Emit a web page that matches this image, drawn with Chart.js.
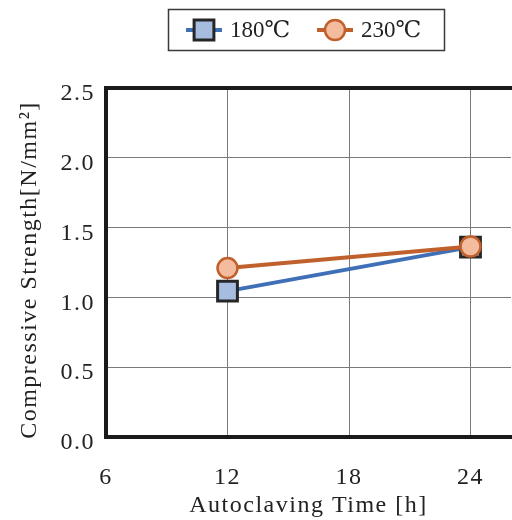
<!DOCTYPE html>
<html><head><meta charset="utf-8">
<script src="https://cdn.jsdelivr.net/npm/chart.js@4.4.1/dist/chart.umd.min.js"></script>
<style>html,body{margin:0;padding:0;background:#fff;overflow:hidden}#wrap{width:512px;height:520px;position:relative;overflow:hidden}</style>
</head><body><div id="wrap"><canvas id="c" width="528" height="520"></canvas></div>
<script>
const hours = [12, 24];
const strength180 = [1.045, 1.36];
const strength230 = [1.21, 1.365];
const seriesNames = ['180℃', '230℃'];
const xTicks = [6, 12, 18, 24];
const yTicks = [0, 0.5, 1.0, 1.5, 2.0, 2.5];
const xTitle = 'Autoclaving Time [h]';
const yTitle = 'Compressive Strength[N/mm²]';

const FONT = '"Liberation Serif", "Times New Roman", "DejaVu Serif", serif';
const TXT = '#222';
const SPACING = '1.5px';

const spacing = {
  id: 'spacing',
  beforeUpdate(chart) { chart.ctx.letterSpacing = SPACING; },
  beforeDraw(chart) { chart.ctx.letterSpacing = SPACING; }
};

const topBorder = {
  id: 'topBorder',
  beforeDatasetsDraw(chart) {
    const {ctx, chartArea: a} = chart;
    ctx.save();
    ctx.strokeStyle = '#1a1a1a';
    ctx.lineWidth = 4;
    ctx.beginPath();
    ctx.moveTo(a.left - 2, a.top);
    ctx.lineTo(a.right + 2, a.top);
    ctx.stroke();
    ctx.restore();
  }
};

const legendBox = {
  id: 'legendBox',
  afterDraw(chart) {
    const ctx = chart.ctx;
    ctx.save();
    ctx.letterSpacing = '0px';
    ctx.strokeStyle = '#3a3a3a';
    ctx.lineWidth = 1.5;
    ctx.strokeRect(168.5, 9.5, 276, 41);
    const starts = [186, 317];
    const cy = 30;
    chart.data.datasets.forEach((ds, i) => {
      const x0 = starts[i];
      ctx.strokeStyle = ds.borderColor;
      ctx.lineWidth = ds.borderWidth;
      ctx.beginPath();
      ctx.moveTo(x0, cy); ctx.lineTo(x0 + 36, cy); ctx.stroke();
      ctx.fillStyle = ds.pointBackgroundColor;
      ctx.strokeStyle = ds.pointBorderColor;
      ctx.lineWidth = ds.pointBorderWidth;
      Chart.helpers.drawPoint(ctx, {pointStyle: ds.pointStyle, radius: ds.pointRadius, rotation: 0, borderWidth: ds.pointBorderWidth}, x0 + 18, cy);
      ctx.fillStyle = TXT;
      ctx.font = '23px ' + FONT;
      ctx.textBaseline = 'middle';
      ctx.textAlign = 'left';
      ctx.fillText(ds.label, x0 + 44, cy + 1);
    });
    ctx.restore();
  }
};

new Chart(document.getElementById('c'), {
  type: 'line',
  data: {
    datasets: [
      {
        label: seriesNames[0],
        data: hours.map((h, i) => ({x: h, y: strength180[i]})),
        borderColor: '#3f6fb6', borderWidth: 4,
        pointStyle: 'rect', pointRadius: 14,
        pointBackgroundColor: '#a7bde0', pointBorderColor: '#262626', pointBorderWidth: 3,
        order: 1
      },
      {
        label: seriesNames[1],
        data: hours.map((h, i) => ({x: h, y: strength230[i]})),
        borderColor: '#c0602c', borderWidth: 4,
        pointStyle: 'circle', pointRadius: 10,
        pointBackgroundColor: '#f4bc9e', pointBorderColor: '#c0602c', pointBorderWidth: 2.5,
        order: 0
      }
    ]
  },
  options: {
    responsive: false,
    animation: false,
    layout: {padding: {top: 88, left: 0, right: 0, bottom: 0}},
    plugins: {legend: {display: false}, tooltip: {enabled: false}},
    scales: {
      x: {
        type: 'linear', min: 6, max: 26,
        afterBuildTicks: s => { s.ticks = xTicks.map(v => ({value: v})); },
        afterFit: s => { s.height = 83; },
        grid: {color: '#7a7a7a', lineWidth: 1, drawTicks: false},
        border: {width: 4, color: '#1a1a1a'},
        ticks: {font: {family: FONT, size: 24}, color: TXT, padding: 26, maxRotation: 0},
        title: {display: true, text: xTitle, font: {family: FONT, size: 24}, color: TXT, padding: {top: 0, bottom: 0}}
      },
      y: {
        min: 0, max: 2.5,
        afterBuildTicks: s => { s.ticks = yTicks.map(v => ({value: v})); },
        afterFit: s => { s.width = 106; },
        grid: {color: '#7a7a7a', lineWidth: 1, drawTicks: false},
        border: {width: 4, color: '#1a1a1a'},
        ticks: {font: {family: FONT, size: 24}, color: TXT, padding: 11, labelOffset: 6, callback: v => Number(v).toFixed(1)},
        title: {display: true, text: yTitle + '  ', font: {family: FONT, size: 24}, color: TXT, padding: {top: 15, bottom: 0}}
      }
    }
  },
  plugins: [spacing, topBorder, legendBox]
});
</script></body></html>
